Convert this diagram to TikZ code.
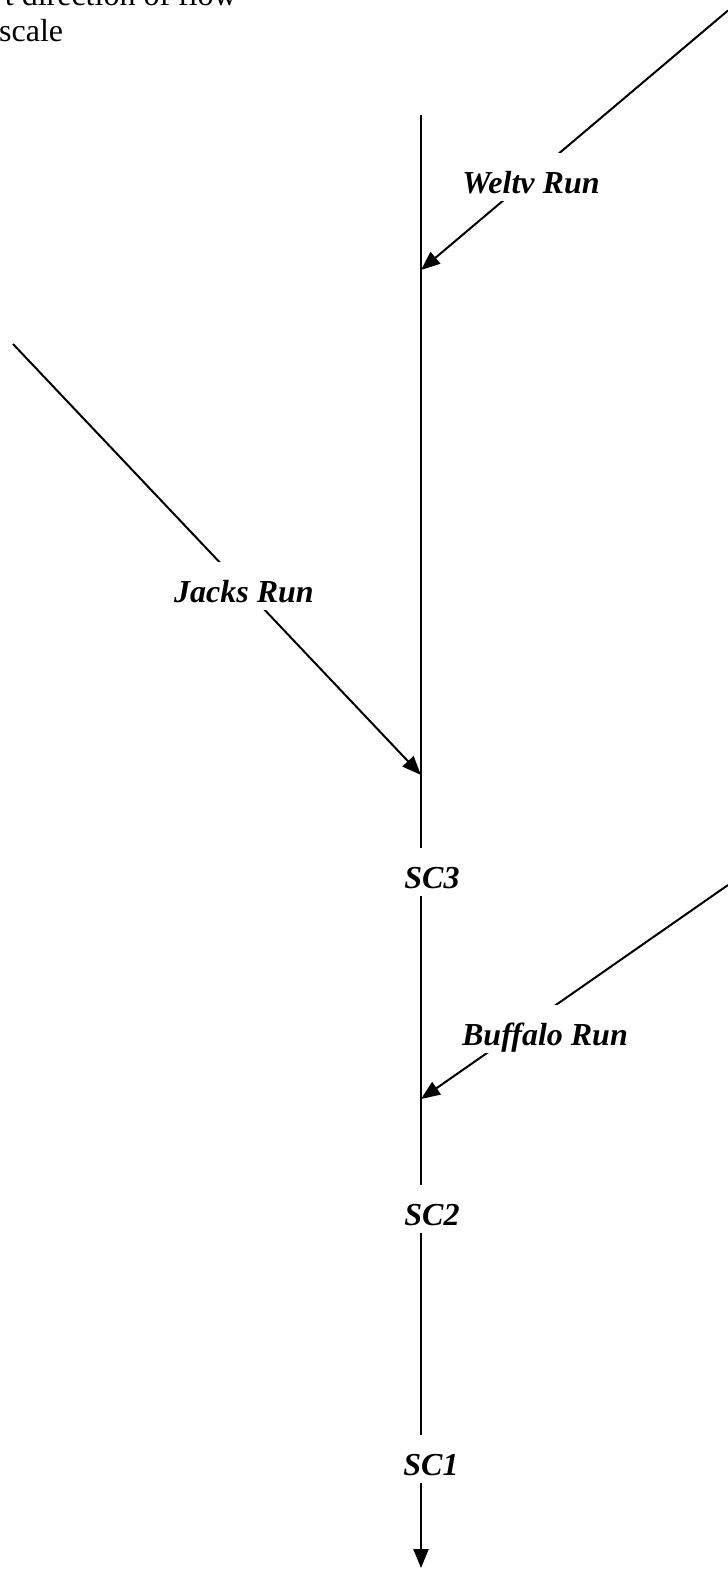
\documentclass[tikz,border=0pt]{standalone}
\usepackage{fontspec}
\setmainfont{Liberation Serif}
\usetikzlibrary{arrows.meta}
\begin{document}
\begin{tikzpicture}[x=1pt,y=-1pt,
  stream/.style={line width=2pt},
  mainstem/.style={line width=2.2pt},
  flowtip/.style={-{Triangle[length=19pt,width=15pt]}},
  runlabel/.style={font=\fontsize{32}{38}\selectfont\bfseries\itshape,
    fill=white, inner xsep=2pt, inner ysep=0pt,
    text height=40pt, text depth=8pt, anchor=base},
  note/.style={font=\fontsize{32}{38}\selectfont, inner sep=0pt}]
\useasboundingbox (0,0) rectangle (728,1569);

% legend lines in the upper left corner
\node[note, anchor=base east] (legendA) at (237,5) {t direction of flow};
\node[note, anchor=base west] (legendB) at (-1,41) {scale};

% main stem end points and confluences
\coordinate (src) at (421,115);
\coordinate (mouth) at (421,1568);
\coordinate (jW) at (421,270);
\coordinate (jJ) at (421,775);
\coordinate (jB) at (421,1099);

% tributary upstream ends
\coordinate (wS) at (728,10.5);
\coordinate (jS) at (13,344);
\coordinate (bS) at (728,885);

% tributaries
\draw[stream, flowtip] (wS) -- (jW);
\draw[stream, flowtip] (jS) -- (jJ);
\draw[stream, flowtip] (bS) -- (jB);

\node[runlabel] (welty) at (531,193) {Weltv Run};
\node[runlabel] (jacks) at (244,602) {Jacks Run};
\node[runlabel] (buffalo) at (545,1045) {Buffalo Run};

% sampling stations on the main stem
\node[runlabel] (sc3) at (432,888) {SC3};
\node[runlabel] (sc2) at (432,1225) {SC2};
\node[runlabel] (sc1) at (431,1475) {SC1};

\draw[mainstem] (src) -- (src |- sc3.north);
\draw[mainstem] (src |- sc3.south) -- (src |- sc2.north);
\draw[mainstem] (src |- sc2.south) -- (src |- sc1.north);
\draw[mainstem, flowtip] (src |- sc1.south) -- (mouth);
\end{tikzpicture}
\end{document}
